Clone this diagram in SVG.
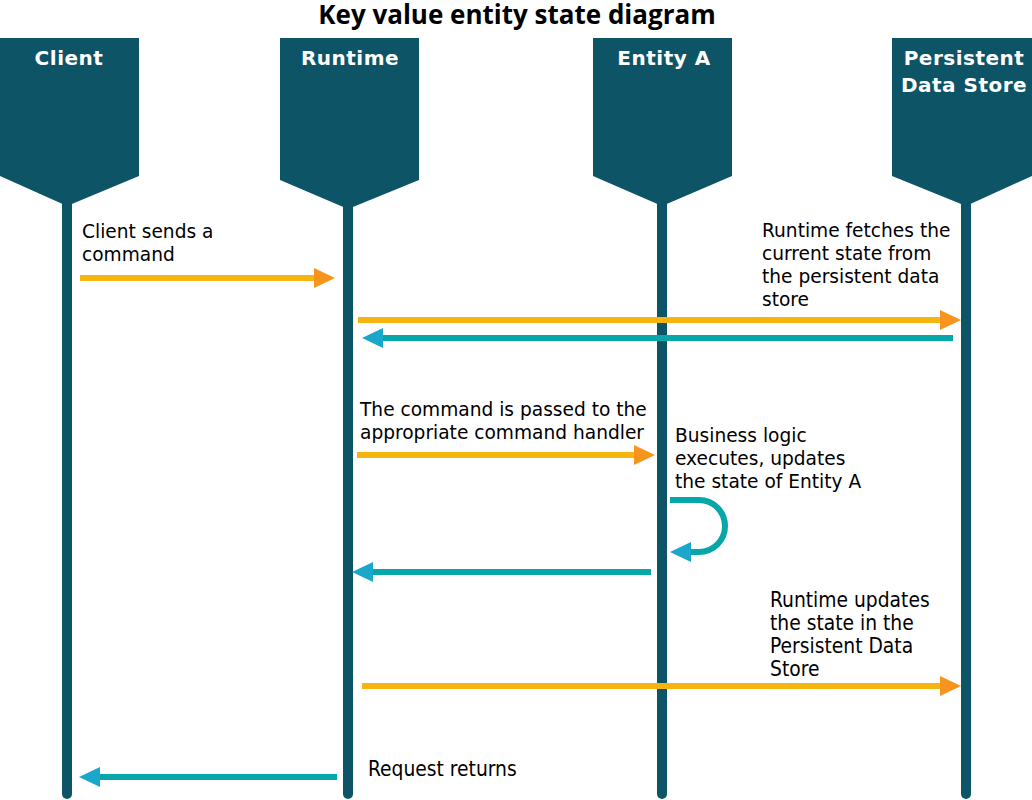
<svg xmlns="http://www.w3.org/2000/svg" width="1032" height="800" viewBox="0 0 1032 800">
<style>
.title{font-family:"Open Sans","Noto Sans",sans-serif;font-weight:700;font-size:26px;fill:#000}
.hdr{font-family:"DejaVu Sans",Verdana,sans-serif;font-weight:700;font-size:20px;letter-spacing:0.5px;fill:#fff}
.banner{fill:#0E5467}
.life{stroke:#0E5467;stroke-width:10;stroke-linecap:round;fill:none}
.lbl{font-family:"DejaVu Sans",Verdana,sans-serif;font-size:18.6px;fill:#000}
.lblc{font-family:"DejaVu Sans Condensed","DejaVu Sans",sans-serif;font-stretch:condensed;font-size:20.8px;fill:#000}
.req{stroke:#F5B50E;stroke-width:6;fill:none}
.rsp{stroke:#07A6A8;stroke-width:6;fill:none}
</style>
<defs>
<marker id="ho" markerUnits="userSpaceOnUse" markerWidth="22" markerHeight="20" refX="0" refY="10" orient="auto">
<path d="M0,0 L21,10 L0,20 Z" fill="#F7941D"/>
</marker>
<marker id="ht" markerUnits="userSpaceOnUse" markerWidth="22" markerHeight="20" refX="0" refY="10" orient="auto">
<path d="M0,0 L21,10 L0,20 Z" fill="#1AA7CB"/>
</marker>
</defs>
<text class="title" x="517" y="24" text-anchor="middle">Key value entity state diagram</text>
<g id="client">
<line class="life" x1="67" y1="190" x2="67" y2="794"/>
<polygon class="banner" points="0,38 139,38 139,176 67,206 0,176"/>
<text class="hdr" x="69" y="65" text-anchor="middle">Client</text>
</g>
<g id="runtime">
<line class="life" x1="348" y1="190" x2="348" y2="794"/>
<polygon class="banner" points="280,38 419,38 419,180 348,209 280,180"/>
<text class="hdr" x="350" y="65" text-anchor="middle">Runtime</text>
</g>
<g id="entity-a">
<line class="life" x1="662" y1="190" x2="662" y2="794"/>
<polygon class="banner" points="593,38 732,38 732,176 662,206 593,176"/>
<text class="hdr" x="664" y="65" text-anchor="middle">Entity A</text>
</g>
<g id="store">
<line class="life" x1="966" y1="190" x2="966" y2="794"/>
<polygon class="banner" points="892,38 1032,38 1032,176 966,206 892,176"/>
<text class="hdr" x="964" y="65" text-anchor="middle">Persistent</text>
<text class="hdr" x="964" y="92" text-anchor="middle">Data Store</text>
</g>
<g id="connectors">
<line class="req" x1="80" y1="278" x2="314" y2="278" marker-end="url(#ho)"/>
<line class="req" x1="358" y1="320" x2="940" y2="320" marker-end="url(#ho)"/>
<line class="rsp" x1="953" y1="338" x2="383" y2="338" marker-end="url(#ht)"/>
<line class="req" x1="357" y1="455" x2="634" y2="455" marker-end="url(#ho)"/>
<path class="rsp" d="M670,500 L699,500 A26,26 0 0 1 699,552 L691,552" marker-end="url(#ht)"/>
<line class="rsp" x1="651" y1="572" x2="373" y2="572" marker-end="url(#ht)"/>
<line class="req" x1="362" y1="686" x2="940" y2="686" marker-end="url(#ho)"/>
<line class="rsp" x1="337" y1="777" x2="100" y2="777" marker-end="url(#ht)"/>
</g>
<g id="labels">
<text class="lbl" x="82" y="238">Client sends a</text>
<text class="lbl" x="82" y="261">command</text>
<text class="lbl" x="762" y="237">Runtime fetches the</text>
<text class="lbl" x="762" y="260">current state from</text>
<text class="lbl" x="762" y="283">the persistent data</text>
<text class="lbl" x="762" y="306">store</text>
<text class="lbl" x="360" y="416">The command is passed to the</text>
<text class="lbl" x="360" y="439">appropriate command handler</text>
<text class="lbl" x="675" y="442">Business logic</text>
<text class="lbl" x="675" y="465">executes, updates</text>
<text class="lbl" x="675" y="488">the state of Entity A</text>
<text class="lblc" x="770" y="607">Runtime updates</text>
<text class="lblc" x="770" y="630">the state in the</text>
<text class="lblc" x="770" y="653">Persistent Data</text>
<text class="lblc" x="770" y="676">Store</text>
<text class="lblc" x="368" y="776">Request returns</text>
</g>
</svg>
